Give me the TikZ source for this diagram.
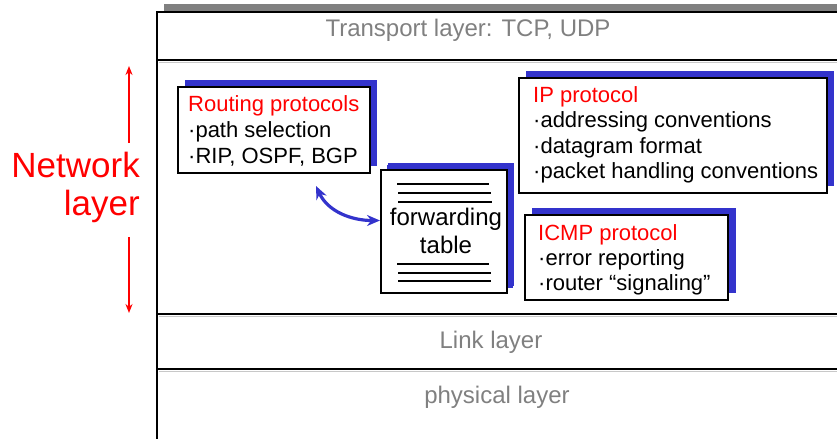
\documentclass[tikz,border=0pt]{standalone}
\usepackage{fontspec}
\setmainfont{Liberation Sans}
\usetikzlibrary{shadows,calc,arrows.meta}
\definecolor{shadowblue}{RGB}{51,51,204}
\definecolor{layergray}{RGB}{128,128,128}
\definecolor{rulegray}{RGB}{200,200,200}
\begin{document}
\begin{tikzpicture}[x=1pt,y=-1pt,
  panel/.style={draw=black, line width=2pt, fill=white, inner sep=0pt,
    general shadow={fill=shadowblue, shadow xshift=7pt, shadow yshift=7pt}},
  boxtext/.style={anchor=west, align=left, inner sep=0pt,
    font=\fontsize{22}{26}\selectfont},
  layertext/.style={text=layergray, inner sep=0pt,
    font=\fontsize{24}{28}\selectfont},
  divider/.style={line width=2pt, black},
  tablerule/.style={line width=1.6pt, black},
  redarrow/.style={draw=red, line width=2pt, -{Stealth[length=9pt,width=7pt]}},
  bluearrow/.style={draw=shadowblue, line width=3.2pt,
    {Stealth[length=13pt,width=11pt]}-{Stealth[length=13pt,width=11pt]}}]
\useasboundingbox (0,0) rectangle (837,439);

% outer frame of the protocol stack
\fill[layergray] (164,4) rectangle (837,11);
\draw[divider] (156,12) -- (837,12);
\draw[divider] (157,12) -- (157,439);

% layer dividers with a faint rule underneath
\foreach \yy in {60,314,369} {
  \draw[rulegray, line width=1pt] (159,\yy+2) -- (837,\yy+2);
  \draw[divider] (158,\yy) -- (837,\yy);
}

% layer names
\node[layertext] (transport) at (468,30) {Transport layer: TCP, UDP};
\node[layertext] (link) at (491,342) {Link layer};
\node[layertext] (physical) at (497,397) {physical layer};

% network layer label and its extent arrows
\node[text=red, align=right, inner sep=0pt, anchor=east,
  font=\fontsize{35}{38}\selectfont] (netlabel) at (140,187) {Network\\layer};
\coordinate (upstart) at (129,143);
\coordinate (nettop) at (129,66);
\coordinate (downstart) at (129,237);
\coordinate (netbot) at (129,313);
\draw[redarrow] (upstart) -- (nettop);
\draw[redarrow] (downstart) -- (netbot);

% routing protocols
\node[panel, minimum width=192pt, minimum height=86pt] (routing) at (274,130) {};
\node[boxtext] (routingtxt) at (188,131)
  {\textcolor{red}{Routing protocols}\\·path selection\\·RIP, OSPF, BGP};

% forwarding table
\node[panel, minimum width=126pt, minimum height=123pt,
  general shadow={fill=shadowblue, shadow xshift=6pt, shadow yshift=5pt}]
  (fwd) at (444,231.5) {};
\foreach \yy/\xa/\xb in {184/397/489, 193/398/491, 202/398/492,
                         264/397/489, 273/398/491, 281/398/491}
  \draw[tablerule] (\xa,\yy) -- (\xb,\yy);
\node[align=center, inner sep=0pt, font=\fontsize{24}{28}\selectfont]
  (fwdtxt) at (446,231) {forwarding\\table};

% IP protocol
\node[panel, minimum width=308pt, minimum height=115pt] (ip) at (673,135.5) {};
\node[boxtext, font=\fontsize{22}{25.4}\selectfont] (iptxt) at (533,135)
  {\textcolor{red}{IP protocol}\\·addressing conventions\\·datagram format\\·packet handling conventions};

% ICMP protocol
\node[panel, minimum width=203pt, minimum height=85pt,
  general shadow={fill=shadowblue, shadow xshift=8pt, shadow yshift=7pt}]
  (icmp) at (626.5,257.5) {};
\node[boxtext, font=\fontsize{22}{25}\selectfont] (icmptxt) at (538,260)
  {\textcolor{red}{ICMP protocol}\\·error reporting\\·router “signaling”};

% routing algorithms fill the forwarding table
\draw[bluearrow] ($(routing.south)+(42,12)$)
  to[out=-65, in=180] ($(fwd.west)+(0,-11)$);
\end{tikzpicture}
\end{document}
